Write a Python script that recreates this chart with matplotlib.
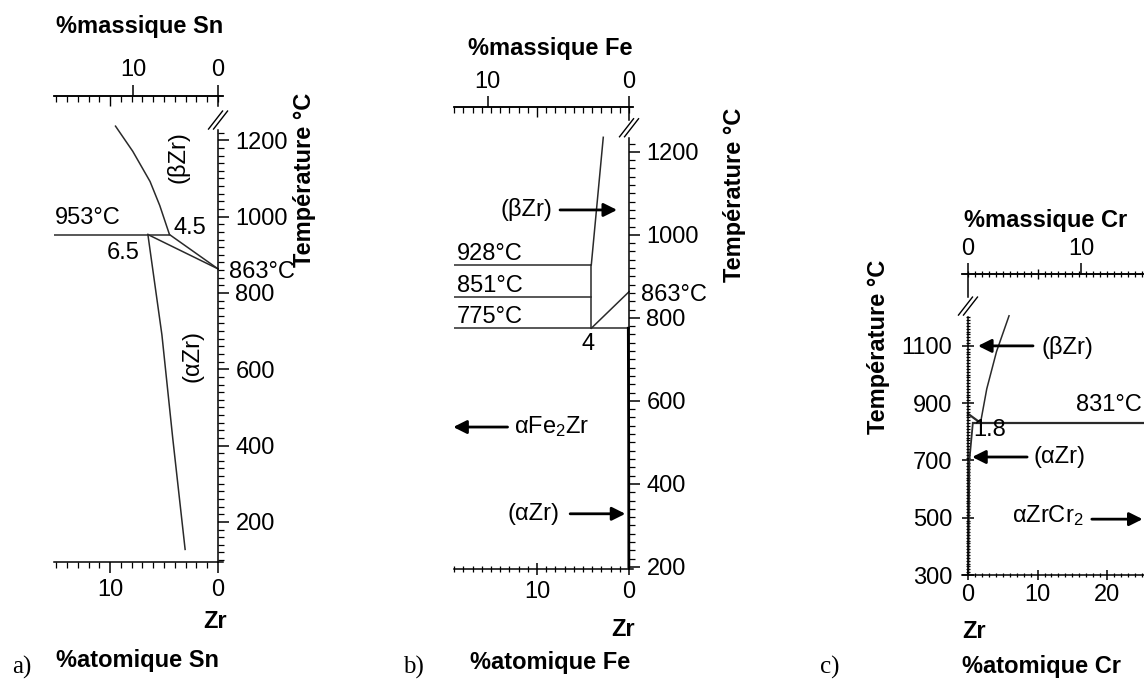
import numpy as np
import matplotlib
matplotlib.use("Agg")
import matplotlib.pyplot as plt
from matplotlib.ticker import NullFormatter

plt.rcParams['font.family'] = ['Liberation Sans', 'DejaVu Sans']
plt.rcParams['mathtext.fontset'] = 'custom'
plt.rcParams['mathtext.rm'] = 'Liberation Sans'
plt.rcParams['mathtext.it'] = 'Liberation Sans:italic'

W, H = 1144, 681
FS = 17
LINE = '#2a2a2a'

# atomic masses (for the %massique <-> %atomique scale)
M_ZR, M_SN, M_FE, M_CR = 91.224, 118.71, 55.845, 51.996

# ---- a) Zr-Sn ----
sn_beta_at = [9.5, 7.9, 6.3, 5.4, 4.5]
sn_beta_t = [1237, 1171, 1092, 1029, 953]
sn_alpha_at = [6.5, 5.2, 4.2, 3.05]
sn_alpha_t = [953, 690, 420, 128]
sn_peri_t = 953
sn_peri_beta, sn_peri_alpha = 4.5, 6.5
zr_transus = 863

# ---- b) Zr-Fe ----
fe_beta_at = [4.1, 2.8]
fe_beta_t = [928, 1235]
fe_levels = [928, 851, 775]
fe_eut_at = 4.1
fe_alpha_at = [0.08, 0.04, 0.02]
fe_alpha_t = [775, 500, 200]

# ---- c) Zr-Cr ----
cr_beta_at = [1.8, 2.7, 4.1, 5.9]
cr_beta_t = [831, 950, 1080, 1205]
cr_eut_t = 831
cr_alpha_at = [0.7, 0.2, 0.05]
cr_alpha_t = [831, 700, 300]

fig = plt.figure(figsize=(W / 100, H / 100), dpi=100)


def add_panel(left, right, top, bottom):
    return fig.add_axes([left / W, 1 - bottom / H, (right - left) / W, (bottom - top) / H])


def ftext(px, py, s, **kw):
    kw.setdefault('fontsize', FS)
    fig.text(px / W, 1 - py / H, s, **kw)


def at_to_wt(m):
    def f(a):
        a = np.asarray(a, float)
        return 100 * a * m / (a * m + (100 - a) * M_ZR)
    return f


def wt_to_at(m):
    def g(w):
        w = np.asarray(w, float)
        return 100 * (w / m) / (w / m + (100 - w) / M_ZR)
    return g


def shift(ax, x, y, dx, dy):
    p = ax.transData.transform((x, y))
    return ax.transData.inverted().transform((p[0] + dx, p[1] + dy))


def dress(ax, side, xlim, ylim, ybound, top_seg, brk, ymaj, ymin, xmaj, xmin,
          m, wt_ticks, ypad, xpad, tpad, ylen=(8, 4.3), xlen=(8, 4.3),
          ydir='out', xdir='out', topdir='in'):
    ax.set_xlim(*xlim)
    ax.set_ylim(*ylim)
    other = 'left' if side == 'right' else 'right'
    ax.spines[other].set_visible(False)
    ax.spines['top'].set_visible(False)
    ax.spines[side].set_position(('data', 0))
    ax.spines[side].set_bounds(*ybound)
    for s in ax.spines.values():
        s.set_linewidth(1.1)
    ax.yaxis.set_ticks_position(side)
    ax.set_yticks(ymaj)
    ax.set_yticks(ymin, minor=True)
    ax.set_xticks(xmaj)
    ax.set_xticks(xmin, minor=True)
    ax.tick_params(axis='y', which='major', direction=ydir, length=ylen[0], width=1.1,
                   labelsize=FS, pad=ypad)
    ax.tick_params(axis='y', which='minor', direction=ydir, length=ylen[1], width=0.9)
    ax.tick_params(axis='x', which='major', direction=xdir, length=xlen[0], width=1.1,
                   labelsize=FS, pad=xpad)
    ax.tick_params(axis='x', which='minor', direction=xdir, length=xlen[1], width=0.9)

    # top axis: atomic ticks pointing in, mass % labels pointing out
    sec_in = ax.secondary_xaxis('top')
    sec_in.set_xticks([10])
    sec_in.set_xticks(xmin, minor=True)
    sec_in.xaxis.set_major_formatter(NullFormatter())
    sec_in.tick_params(which='major', direction=topdir, length=7, width=1.0)
    sec_in.tick_params(which='minor', direction=topdir, length=4, width=0.9)
    sec_in.spines['top'].set_linewidth(1.1)
    sec_wt = ax.secondary_xaxis('top', functions=(at_to_wt(m), wt_to_at(m)))
    sec_wt.set_xticks(wt_ticks)
    sec_wt.tick_params(which='major', direction='out', length=8, width=1.1,
                       labelsize=FS, pad=tpad)
    sec_wt.spines['top'].set_linewidth(1.1)

    # temperature axis above the break
    ax.plot([0, 0], top_seg, color='black', lw=1.1, clip_on=False)
    for off in (-2.5, 2.5):
        p0 = shift(ax, 0, brk, off - 7, -9)
        p1 = shift(ax, 0, brk, off + 7, 9)
        ax.plot([p0[0], p1[0]], [p0[1], p1[1]], color='black', lw=1.0, clip_on=False)
    ax.patch.set_visible(False)


def arrow(ax, tail, head):
    ax.annotate('', xy=head, xytext=tail, annotation_clip=False,
                arrowprops=dict(arrowstyle='-|>', color='black', lw=2.0,
                                mutation_scale=20, shrinkA=0, shrinkB=0))


# ================= a) =================
axa = add_panel(54, 223, 96, 562)
dress(axa, 'right', (15.2, -0.46), (95, 1316), (95, 1227), (1290, 1316), 1253,
      [200, 400, 600, 800, 1000, 1200], np.arange(100, 1221, 20),
      [0, 10], np.arange(0, 16), M_SN, [0, 10], ypad=4.5, xpad=4, tpad=3)
axa.plot(sn_beta_at, sn_beta_t, color=LINE, lw=1.1)
axa.plot(sn_alpha_at, sn_alpha_t, color=LINE, lw=1.1)
axa.plot([15.2, sn_peri_beta], [sn_peri_t, sn_peri_t], color=LINE, lw=1.1)
axa.plot([sn_peri_beta, 0], [sn_peri_t, zr_transus], color=LINE, lw=1.1)
axa.plot([sn_peri_alpha, 0], [sn_peri_t, zr_transus], color=LINE, lw=1.1)
axa.text(15.1, 996, '953°C', fontsize=FS, ha='left', va='center')
axa.text(2.6, 970, '4.5', fontsize=FS, ha='center', va='center')
axa.text(8.8, 905, '6.5', fontsize=FS, ha='center', va='center')
axa.text(-1.0, 855, '863°C', fontsize=FS, ha='left', va='center')
axa.text(3.7, 1156, '(βZr)', fontsize=FS, rotation=90, ha='center', va='center')
axa.text(2.4, 635, '(αZr)', fontsize=FS, rotation=90, ha='center', va='center')

ftext(56, 27, '%massique Sn', weight='bold', ha='left', va='center')
ftext(305, 180, 'Température °C', weight='bold', rotation=90, ha='center', va='center')
ftext(215, 622, 'Zr', weight='bold', ha='center', va='center')
ftext(56, 660, '%atomique Sn', weight='bold', ha='left', va='center')
ftext(22, 667, 'a)', family='Liberation Serif', fontsize=18, ha='center', va='center')

# ================= b) =================
axb = add_panel(454, 633, 107, 569)
dress(axb, 'right', (19.02, -0.43), (195, 1308), (195, 1234), (1277, 1308), 1258,
      [200, 400, 600, 800, 1000, 1200], np.arange(200, 1221, 20),
      [0, 10], np.arange(0, 20), M_FE, [0, 10], ypad=4.5, xpad=4, tpad=2,
      xdir='inout', xlen=(9, 4))
axb.plot(fe_beta_at, fe_beta_t, color=LINE, lw=1.1)
for lev in fe_levels[:2]:
    axb.plot([19.02, fe_eut_at], [lev, lev], color=LINE, lw=1.1)
axb.plot([19.02, 0], [fe_levels[2], fe_levels[2]], color=LINE, lw=1.1)
axb.plot([fe_eut_at, fe_eut_at], [fe_levels[0], fe_levels[2]], color=LINE, lw=1.1)
axb.plot([fe_eut_at, 0], [fe_levels[2], zr_transus], color=LINE, lw=1.1)
axb.plot(fe_alpha_at, fe_alpha_t, color='black', lw=2.0)
for lev in fe_levels:
    axb.text(18.7, lev + 26, f'{lev}°C', fontsize=FS, ha='left', va='center')
axb.text(-1.3, 855, '863°C', fontsize=FS, ha='left', va='center')
axb.text(4.46, 737, '4', fontsize=FS, ha='center', va='center')
axb.text(11.2, 1060, '(βZr)', fontsize=FS, ha='center', va='center')
arrow(axb, (7.5, 1060), (1.3, 1060))
axb.text(8.37, 537, r'αFe$_\mathregular{2}$Zr', fontsize=FS, ha='center', va='center')
arrow(axb, (13.2, 537), (19.1, 537))
axb.text(10.4, 328, '(αZr)', fontsize=FS, ha='center', va='center')
arrow(axb, (6.4, 328), (0.4, 328))

ftext(468, 48, '%massique Fe', weight='bold', ha='left', va='center')
ftext(735, 195, 'Température °C', weight='bold', rotation=90, ha='center', va='center')
ftext(623, 630, 'Zr', weight='bold', ha='center', va='center')
ftext(470, 662, '%atomique Fe', weight='bold', ha='left', va='center')
ftext(413, 667, 'b)', family='Liberation Serif', fontsize=18, ha='center', va='center')

# ================= c) =================
axc = add_panel(962, 1160, 274, 575)
dress(axc, 'left', (-0.86, 27.6), (300, 1351), (300, 1200), (1270, 1351), 1239,
      [300, 500, 700, 900, 1100], np.arange(300, 1201, 10),
      [0, 10, 20], np.arange(0, 28), M_CR, [0, 10], ypad=7, xpad=3, tpad=2,
      ydir='inout', ylen=(9, 3), xdir='inout', xlen=(7, 3), topdir='inout')
axc.plot(cr_beta_at, cr_beta_t, color=LINE, lw=1.1)
axc.plot([cr_alpha_at[0], 27.6], [cr_eut_t, cr_eut_t], color=LINE, lw=1.6)
axc.plot([0, cr_beta_at[0]], [zr_transus, cr_eut_t], color=LINE, lw=1.6)
axc.plot(cr_alpha_at, cr_alpha_t, color=LINE, lw=1.3)
axc.text(25.0, 895, '831°C', fontsize=FS, ha='right', va='center')
axc.text(3.17, 806, '1.8', fontsize=FS, ha='center', va='center')
axc.text(10.6, 1096, '(βZr)', fontsize=FS, ha='left', va='center')
arrow(axc, (9.35, 1100), (1.44, 1100))
axc.text(9.35, 712, '(αZr)', fontsize=FS, ha='left', va='center')
arrow(axc, (8.5, 712), (0.6, 712))
axc.text(11.4, 509, r'αZrCr$_\mathregular{2}$', fontsize=FS, ha='center', va='center')
arrow(axc, (17.8, 495), (25.1, 495))

ftext(964, 220, '%massique Cr', weight='bold', ha='left', va='center')
ftext(878, 347, 'Température °C', weight='bold', rotation=90, ha='center', va='center')
ftext(962, 632, 'Zr', weight='bold', ha='left', va='center')
ftext(962, 667, '%atomique Cr', weight='bold', ha='left', va='center')
ftext(830, 667, 'c)', family='Liberation Serif', fontsize=18, ha='center', va='center')

fig.savefig('out.png', dpi=100)
